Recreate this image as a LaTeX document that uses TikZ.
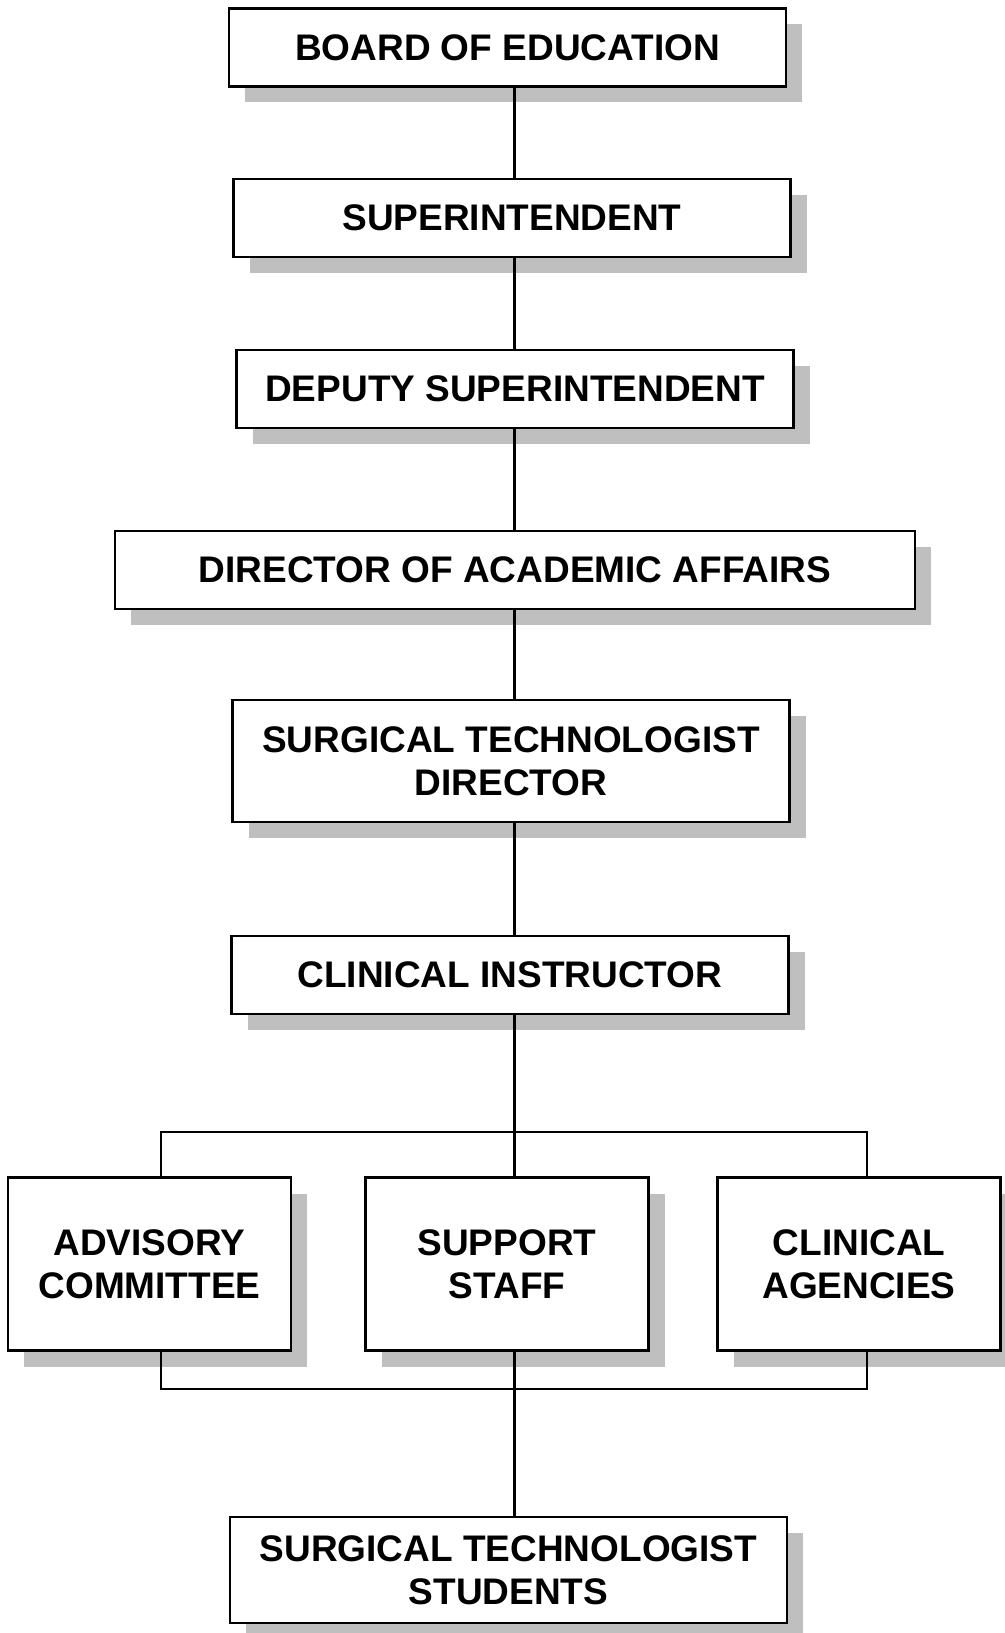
\documentclass[tikz,border=0pt]{standalone}
\usepackage{fontspec}
\setmainfont{Liberation Sans}
\usetikzlibrary{shadows}
\tikzset{
	orgbox/.style={
			rectangle,
			draw=black,
			line width=1.2pt,
			fill=white,
			minimum width=278.5pt,
			minimum height=39pt,
			inner sep=0pt,
			align=center,
			font=\fontsize{18.5}{21.4}\selectfont\bfseries,
			general shadow={fill=black!25, shadow xshift=8pt, shadow yshift=-8pt}
		},
	widebox/.style={
			orgbox,
			minimum width=400pt
		},
	smallbox/.style={
			orgbox,
			minimum width=141.5pt,
			minimum height=86.5pt
		},
	link/.style={
			line width=1.1pt
		}
}

\begin{document}
\begin{tikzpicture}[x=0.5pt, y=-0.5pt]
\clip (0,0) rectangle (1005,1633);

\node[orgbox] (board) at (507.5,47.4) {BOARD OF EDUCATION};
\node[orgbox] (super) at (512,218) {SUPERINTENDENT};
\node[orgbox] (deputy) at (515,389) {DEPUTY SUPERINTENDENT};
\node[widebox] (academic) at (515,570) {DIRECTOR OF ACADEMIC AFFAIRS};
\node[orgbox, minimum height=61pt] (stdirector) at (511,761) {SURGICAL TECHNOLOGIST\\DIRECTOR};
\node[orgbox] (instructor) at (510,975) {CLINICAL INSTRUCTOR};

\node[smallbox] (advisory) at (149.5,1264) {ADVISORY\\COMMITTEE};
\node[smallbox] (support) at (507,1264) {SUPPORT\\STAFF};
\node[smallbox] (agencies) at (859,1264) {CLINICAL\\AGENCIES};

\node[orgbox, minimum height=53pt] (students) at (508.5,1570) {SURGICAL TECHNOLOGIST\\STUDENTS};

\coordinate (trunk) at (514.5,0);
\coordinate (toplft) at (161,1132);
\coordinate (toprgt) at (867,1132);
\coordinate (botlft) at (161,1389);
\coordinate (botrgt) at (867,1389);

\draw[link] (board.south -| trunk) -- (super.north -| trunk);
\draw[link] (super.south -| trunk) -- (deputy.north -| trunk);
\draw[link] (deputy.south -| trunk) -- (academic.north -| trunk);
\draw[link] (academic.south -| trunk) -- (stdirector.north -| trunk);
\draw[link] (stdirector.south -| trunk) -- (instructor.north -| trunk);
\draw[link] (instructor.south -| trunk) -- (support.north -| trunk);

\draw[link] (advisory.north -| toplft) -- (toplft) -- (toprgt) -- (agencies.north -| toprgt);
\draw[link] (advisory.south -| botlft) -- (botlft) -- (botrgt) -- (agencies.south -| botrgt);
\draw[link] (support.south -| trunk) -- (students.north -| trunk);
\end{tikzpicture}
\end{document}
